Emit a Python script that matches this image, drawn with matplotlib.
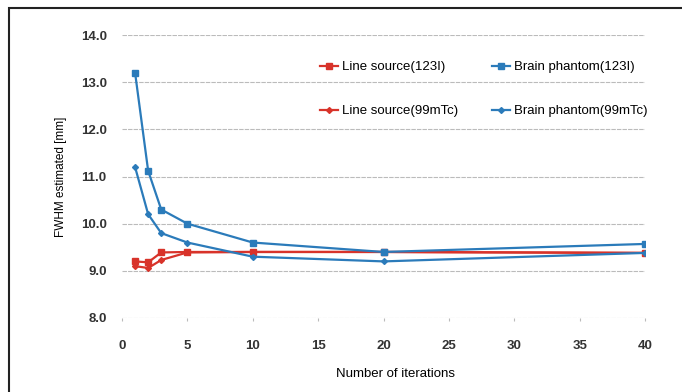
import numpy as np
import matplotlib
matplotlib.use('Agg')
import matplotlib.pyplot as plt
from matplotlib.patches import Rectangle

plt.rcParams['font.family'] = ['Liberation Sans', 'DejaVu Sans']

iterations = [1, 2, 3, 5, 10, 20, 40]
line_123i = [9.2, 9.18, 9.39, 9.4, 9.4, 9.4, 9.38]
line_99mtc = [9.1, 9.06, 9.23, 9.39, 9.4, 9.4, 9.38]
brain_123i = [13.2, 11.12, 10.3, 10.0, 9.6, 9.4, 9.57]
brain_99mtc = [11.2, 10.2, 9.8, 9.6, 9.3, 9.2, 9.38]

red = '#d8332a'
blue = '#2b7bba'

fig = plt.figure(figsize=(6.82, 3.92), dpi=100)
ax = fig.add_axes([122/682, 1-318/392, (645-122)/682, (318-35)/392])

ax.plot(iterations, line_123i, color=red, marker='s', ms=4, lw=1.6, label='Line source(123I)')
ax.plot(iterations, line_99mtc, color=red, marker='D', ms=3, lw=1.6, label='Line source(99mTc)')
ax.plot(iterations, brain_123i, color=blue, marker='s', ms=4, lw=1.6, label='Brain phantom(123I)')
ax.plot(iterations, brain_99mtc, color=blue, marker='D', ms=3, lw=1.6, label='Brain phantom(99mTc)')

ax.set_xlim(0, 40)
ax.set_ylim(8.0, 14.0)
ax.set_xticks(np.arange(0, 41, 5))
ax.set_yticks(np.arange(8.0, 14.01, 1.0))
ax.set_yticklabels(['%.1f' % v for v in np.arange(8.0, 14.01, 1.0)], fontweight='bold', fontsize=9.5, color='#333333')
ax.set_xticklabels([str(v) for v in range(0, 41, 5)], fontweight='bold', fontsize=9.5, color='#333333')
ax.tick_params(axis='y', length=0, pad=11)
ax.tick_params(axis='x', length=2, pad=14, color='#bbbbbb')
ax.grid(axis='y', color='#bbbbbb', lw=0.8, ls=(0, (4, 1)))
for s in ax.spines.values():
    s.set_visible(False)

ax.set_ylabel('FWHM estimated [mm]', fontsize=8.5, labelpad=10)
ax.set_xlabel('Number of iterations', fontsize=9.5)
ax.xaxis.set_label_coords((396-122)/523, -50/283)

ax.legend(loc='upper left', bbox_to_anchor=(320/682, 1-61/392), bbox_transform=fig.transFigure,
          ncol=2, frameon=False, borderpad=0, borderaxespad=0,
          fontsize=9.5, labelspacing=2.4, columnspacing=2.5, handlelength=1.4, handletextpad=0.3)

# outer chart border
fig.patches.append(Rectangle((9/682, -0.1), 1.2, 1-8/392+0.1, transform=fig.transFigure,
                             fill=False, edgecolor='#222222', lw=1.5))

fig.savefig('out.png', dpi=100)
